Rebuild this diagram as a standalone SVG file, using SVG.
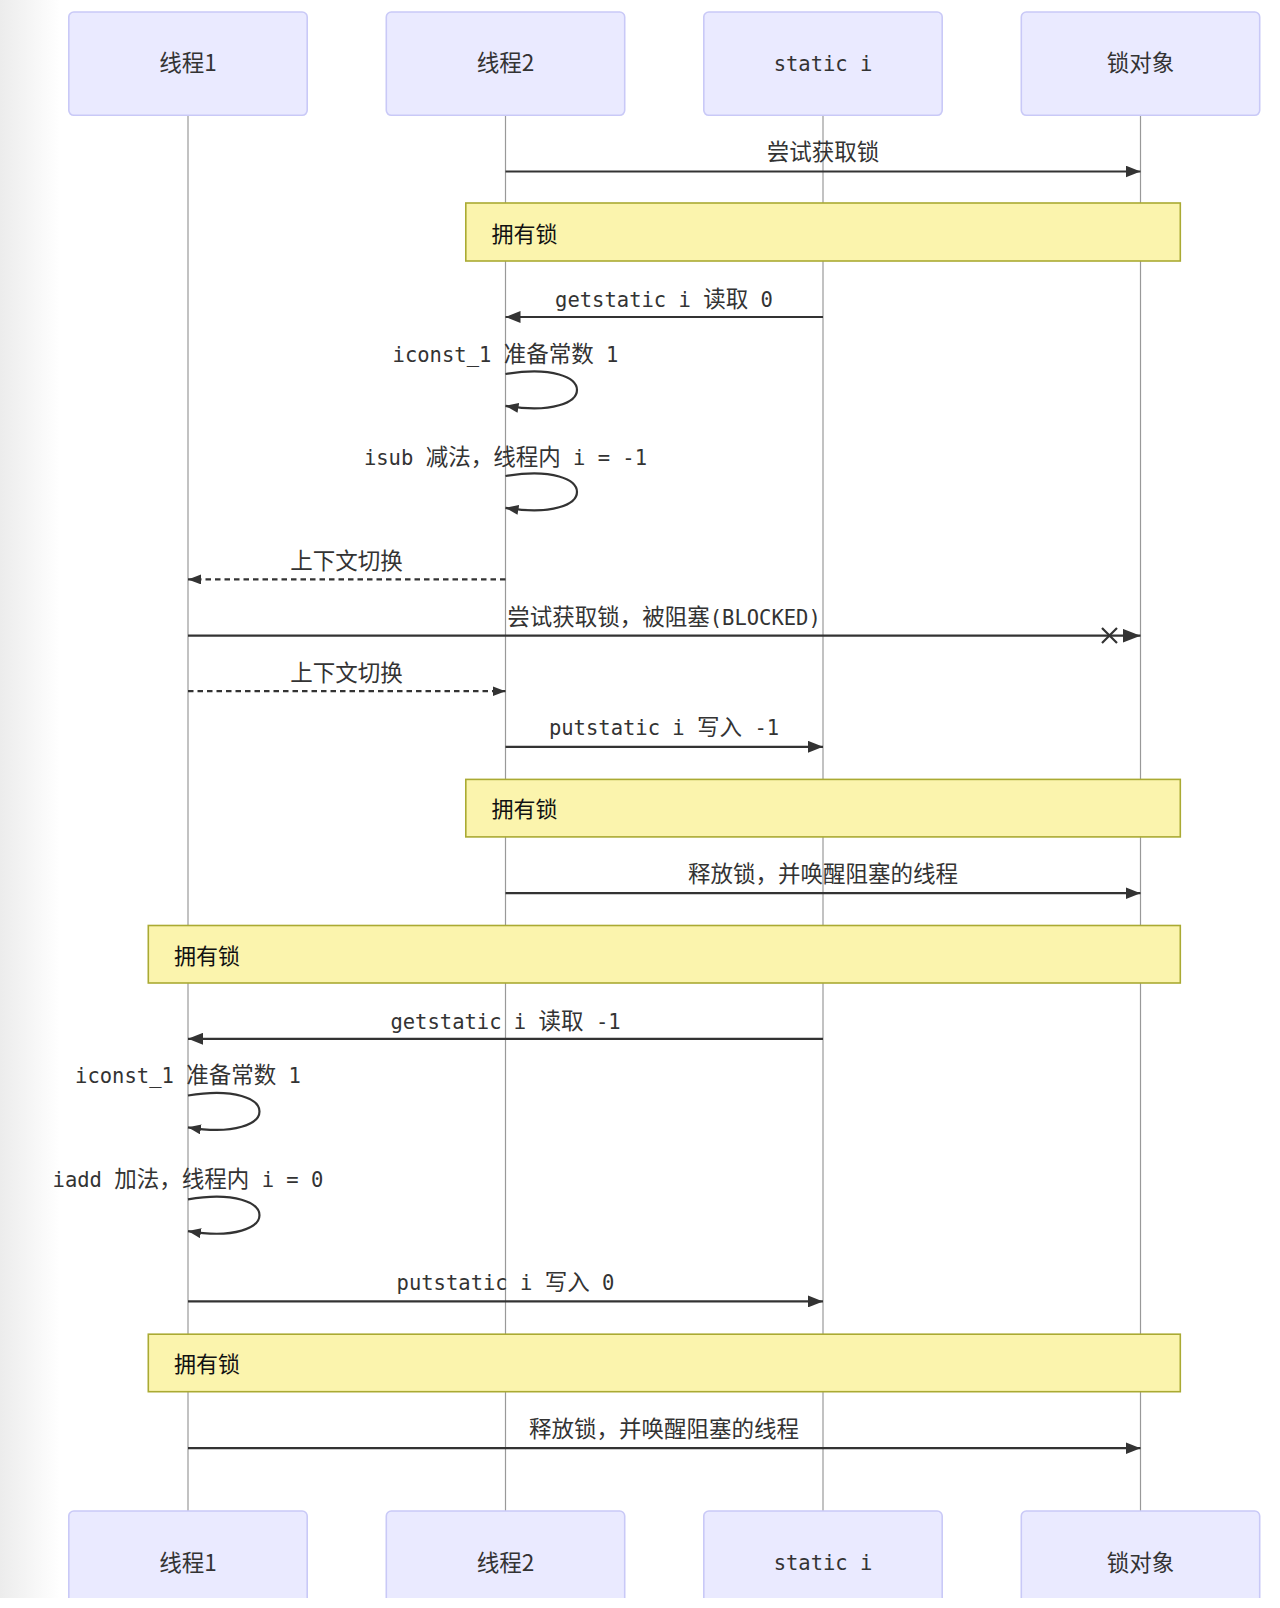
<svg xmlns="http://www.w3.org/2000/svg" width="1280" height="1608" viewBox="0 0 1280 1608">
<style>
.actor rect{fill:#eaeaff;stroke:#c9c9f7;stroke-width:1.6}
.cjk{font-family:"Noto Sans CJK SC","Noto Sans CJK JP",sans-serif;font-size:22.5px;fill:#333}
.mono{font-family:"DejaVu Sans Mono","Liberation Mono","Noto Sans CJK SC",monospace;font-size:20.5px;fill:#333}
.mono tspan.c{font-family:"Noto Sans CJK SC",sans-serif;font-size:22.5px}
.ctr{text-anchor:middle;dominant-baseline:central}
.mid{text-anchor:middle}
.life{stroke:#999;stroke-width:1.2}
.note rect{fill:#fbf4ad;stroke:#aaaa33;stroke-width:1.6}
.note text{font-family:"Noto Sans CJK SC",sans-serif;font-size:22px;fill:#111;dominant-baseline:central}
.msg{stroke:#333;stroke-width:2.2;fill:none}
.dash{stroke-dasharray:5.5,4}
</style>
<defs>
<linearGradient id="shade" x1="0" y1="0" x2="1" y2="0">
<stop offset="0" stop-color="#ececec"/>
<stop offset="1" stop-color="#ffffff"/>
</linearGradient>
<marker id="arr" markerUnits="userSpaceOnUse" markerWidth="16" markerHeight="12" refX="15" refY="6" orient="auto">
<path d="M0,0 L15,6 L0,12 z" fill="#333"/>
</marker>
<marker id="arrb" markerUnits="userSpaceOnUse" markerWidth="19" markerHeight="14" refX="18" refY="7" orient="auto">
<path d="M0,0 L18,7 L0,14 z" fill="#333"/>
</marker>
<marker id="arrs" markerUnits="userSpaceOnUse" markerWidth="14" markerHeight="10" refX="13" refY="5" orient="auto">
<path d="M0,0 L13,5 L0,10 z" fill="#333"/>
</marker>
<clipPath id="cut"><rect x="0" y="0" width="1280" height="1598"/></clipPath>
</defs>
<rect x="0" y="0" width="60" height="1598" fill="url(#shade)"/>

<g id="lifelines">
<line class="life" x1="188" y1="116" x2="188" y2="1511"/>
<line class="life" x1="505.5" y1="116" x2="505.5" y2="1511"/>
<line class="life" x1="823" y1="116" x2="823" y2="1511"/>
<line class="life" x1="1140.5" y1="116" x2="1140.5" y2="1511"/>
</g>

<g id="actor-t1-top" class="actor"><rect x="68.8" y="12" width="238.4" height="103.3" rx="5"/><text class="cjk ctr" x="188" y="61">线程1</text></g>
<g id="actor-t2-top" class="actor"><rect x="386.3" y="12" width="238.4" height="103.3" rx="5"/><text class="cjk ctr" x="505.5" y="61">线程2</text></g>
<g id="actor-si-top" class="actor"><rect x="703.8" y="12" width="238.4" height="103.3" rx="5"/><text class="mono ctr" x="823" y="63.6">static i</text></g>
<g id="actor-lock-top" class="actor"><rect x="1021.3" y="12" width="238.4" height="103.3" rx="5"/><text class="cjk ctr" x="1140.5" y="61">锁对象</text></g>

<g clip-path="url(#cut)">
<g id="actor-t1-bottom" class="actor"><rect x="68.8" y="1511" width="238.4" height="103.3" rx="5"/><text class="cjk ctr" x="188" y="1560.5">线程1</text></g>
<g id="actor-t2-bottom" class="actor"><rect x="386.3" y="1511" width="238.4" height="103.3" rx="5"/><text class="cjk ctr" x="505.5" y="1560.5">线程2</text></g>
<g id="actor-si-bottom" class="actor"><rect x="703.8" y="1511" width="238.4" height="103.3" rx="5"/><text class="mono ctr" x="823" y="1562.6">static i</text></g>
<g id="actor-lock-bottom" class="actor"><rect x="1021.3" y="1511" width="238.4" height="103.3" rx="5"/><text class="cjk ctr" x="1140.5" y="1560.5">锁对象</text></g>
</g>

<g id="note1" class="note"><rect x="465.8" y="203" width="714.5" height="58"/><text x="491.4" y="232">拥有锁</text></g>
<g id="note2" class="note"><rect x="465.8" y="779.4" width="714.5" height="57.5"/><text x="491.4" y="807">拥有锁</text></g>
<g id="note3" class="note"><rect x="148.3" y="925.5" width="1032" height="57.5"/><text x="173.9" y="953.5">拥有锁</text></g>
<g id="note4" class="note"><rect x="148.3" y="1334.2" width="1032" height="57.5"/><text x="173.9" y="1361.7">拥有锁</text></g>

<g id="connectors">
<line class="msg" x1="505.5" y1="171.5" x2="1140.5" y2="171.5" marker-end="url(#arr)"/>
<line class="msg" x1="823" y1="317" x2="505.5" y2="317" marker-end="url(#arr)"/>
<path class="msg" d="M505.5,374 C600.8,358.1 600.8,421.7 505.5,405.8" marker-end="url(#arrs)"/>
<path class="msg" d="M505.5,476 C600.8,460.1 600.8,523.7 505.5,507.8" marker-end="url(#arrs)"/>
<line class="msg dash" x1="505.5" y1="579.4" x2="188" y2="579.4" marker-end="url(#arrs)"/>
<line class="msg" x1="188" y1="635.7" x2="1140.5" y2="635.7" marker-end="url(#arrb)"/>
<path class="msg" d="M1102,628 L1117,643 M1117,628 L1102,643"/>
<line class="msg dash" x1="188" y1="691.2" x2="505.5" y2="691.2" marker-end="url(#arrs)"/>
<line class="msg" x1="505.5" y1="746.8" x2="823" y2="746.8" marker-end="url(#arr)"/>
<line class="msg" x1="505.5" y1="893.2" x2="1140.5" y2="893.2" marker-end="url(#arr)"/>
<line class="msg" x1="823" y1="1038.8" x2="188" y2="1038.8" marker-end="url(#arr)"/>
<path class="msg" d="M188,1095.5 C283.3,1079.6 283.3,1143.2 188,1127.3" marker-end="url(#arrs)"/>
<path class="msg" d="M188,1199.3 C283.3,1183.4 283.3,1247 188,1231.1" marker-end="url(#arrs)"/>
<line class="msg" x1="188" y1="1301.4" x2="823" y2="1301.4" marker-end="url(#arr)"/>
<line class="msg" x1="188" y1="1448.2" x2="1140.5" y2="1448.2" marker-end="url(#arr)"/>
</g>

<g id="labels">
<text class="cjk ctr" x="823" y="150">尝试获取锁</text>
<text class="mono mid" x="664" y="306.6">getstatic i <tspan class="c">读取</tspan> 0</text>
<text class="mono mid" x="505.5" y="362.1">iconst_1 <tspan class="c">准备常数</tspan> 1</text>
<text class="mono mid" x="505.5" y="465.4">isub <tspan class="c">减法，线程内</tspan> i = -1</text>
<text class="cjk ctr" x="346.5" y="559">上下文切换</text>
<text class="mono mid" x="664" y="624.5"><tspan class="c">尝试获取锁，被阻塞</tspan>(BLOCKED)</text>
<text class="cjk ctr" x="346.5" y="670.5">上下文切换</text>
<text class="mono mid" x="664" y="735.3">putstatic i <tspan class="c">写入</tspan> -1</text>
<text class="cjk ctr" x="823" y="872.3">释放锁，并唤醒阻塞的线程</text>
<text class="mono mid" x="505.5" y="1028.5">getstatic i <tspan class="c">读取</tspan> -1</text>
<text class="mono mid" x="188" y="1082.8">iconst_1 <tspan class="c">准备常数</tspan> 1</text>
<text class="mono mid" x="188" y="1187.4">iadd <tspan class="c">加法，线程内</tspan> i = 0</text>
<text class="mono mid" x="505.5" y="1290">putstatic i <tspan class="c">写入</tspan> 0</text>
<text class="cjk ctr" x="664" y="1427.1">释放锁，并唤醒阻塞的线程</text>
</g>
</svg>
